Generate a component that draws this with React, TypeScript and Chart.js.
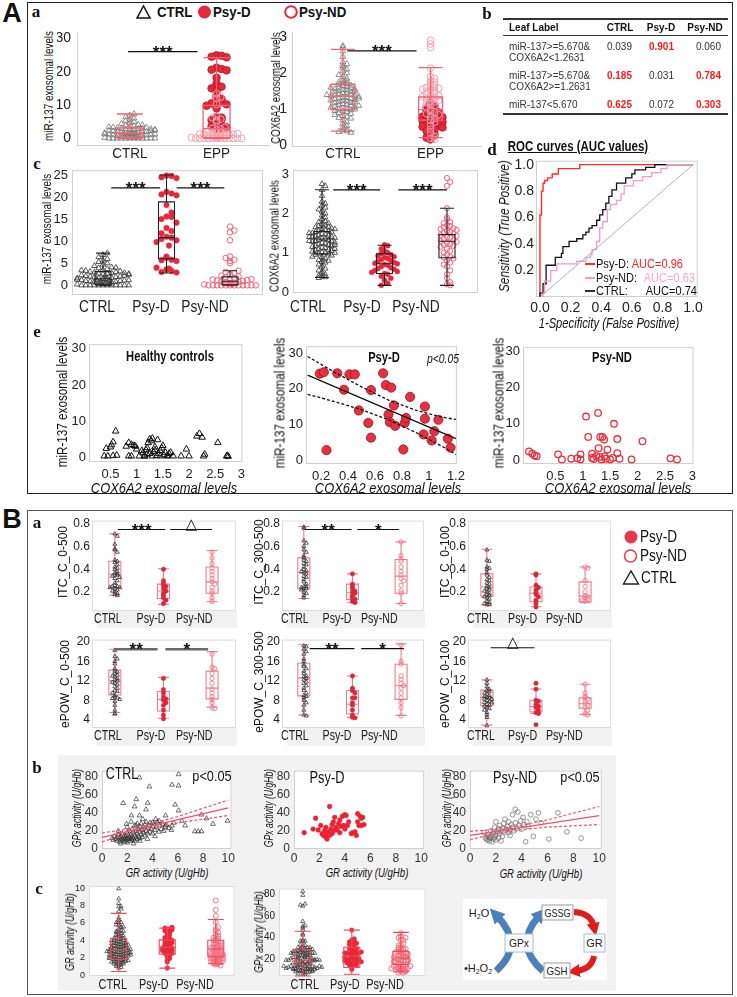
import React, { useEffect, useRef } from 'react';
import { Chart, registerables } from 'chart.js';
Chart.register(...registerables);

const FONT = "'Liberation Sans', Arial, Helvetica, 'DejaVu Sans', sans-serif";
const SERIF = "'Liberation Serif', 'DejaVu Serif', serif";
const RED = '#e5283b';
const PINK = '#f0607a';
const PINK_LIGHT = '#f4a0ae';
const BOXPINK = '#f06474';

// ---------------- DATA ----------------
const GROUPS_A = ['CTRL', 'EPP'];
const GROUPS = ['CTRL', 'Psy-D', 'Psy-ND'];

const MIR_CTRL = [0, 0, 0, 0, 0, 0, 0, 0, 0, 0, 0, 0, 0.2, 0.3, 0.4, 0.5, 0.5, 0.6, 0.7, 0.8, 0.8, 0.9, 1.0, 1.0, 1.1, 1.2, 1.2, 1.3, 1.4, 1.5, 1.5, 1.6, 1.7, 1.8, 1.9, 2.0, 2.0, 2.1, 2.2, 2.3, 2.4, 2.5, 2.6, 2.7, 2.8, 2.9, 3.0, 3.1, 3.2, 3.3, 3.5, 3.7, 3.9, 4.1, 4.4, 4.7, 5.0, 5.3, 5.6, 6.0, 6.4, 6.9, 7.3, 0.3, 0.7, 1.1, 1.6, 2.2, 2.8, 3.4, 4.0, 1.3, 2.6];
const MIR_PSYD = [24.9, 24.8, 24.5, 24.3, 21.2, 20.8, 20.6, 20.4, 18.2, 16.5, 15.6, 15.5, 15.0, 14.2, 13.0, 12.3, 11.8, 11.0, 10.8, 10.5, 10.2, 9.8, 9.0, 6.5, 6.2, 5.8, 5.7, 5.5, 4.0, 3.8, 3.6, 3.3, 3.0, 2.9];
const MIR_PSYND = [0, 0, 0, 0, 0, 0, 0, 0, 0, 0, 0, 0, 0.2, 0.3, 0.4, 0.5, 0.6, 0.7, 0.8, 0.9, 1.0, 1.1, 1.2, 1.3, 1.4, 1.5, 1.6, 1.8, 2.0, 2.2, 2.5, 2.8, 3.0, 3.3, 5.0, 5.5, 5.8, 6.2, 6.5, 10.2, 12.0, 12.4, 13.3];
const COX_CTRL = [2.75, 2.7, 2.6, 2.45, 2.3, 2.25, 2.2, 2.15, 2.1, 2.05, 2.0, 1.95, 1.9, 1.85, 1.8, 1.78, 1.75, 1.72, 1.7, 1.68, 1.66, 1.65, 1.62, 1.6, 1.58, 1.56, 1.55, 1.53, 1.52, 1.5, 1.48, 1.47, 1.45, 1.44, 1.42, 1.4, 1.39, 1.38, 1.36, 1.35, 1.33, 1.32, 1.3, 1.29, 1.28, 1.26, 1.25, 1.23, 1.22, 1.2, 1.18, 1.17, 1.15, 1.13, 1.12, 1.1, 1.08, 1.06, 1.05, 1.03, 1.01, 1.0, 0.98, 0.96, 0.95, 0.93, 0.9, 0.88, 0.85, 0.82, 0.8, 0.77, 0.75, 0.7, 0.65, 0.6, 0.55, 0.5, 0.45, 0.42, 0.4, 0.38, 0.36, 1.6, 1.4, 1.2, 1.0, 1.5, 1.3, 1.1];
const COX_PSYD = [1.2, 1.18, 1.1, 1.05, 1.0, 0.98, 0.95, 0.92, 0.9, 0.88, 0.85, 0.82, 0.8, 0.78, 0.75, 0.73, 0.72, 0.7, 0.68, 0.65, 0.62, 0.6, 0.58, 0.55, 0.52, 0.5, 0.47, 0.45, 0.4, 0.35, 0.3, 0.22, 0.17];
const COX_PSYND = [2.9, 2.8, 2.7, 2.13, 1.9, 1.85, 1.78, 1.75, 1.7, 1.68, 1.65, 1.62, 1.6, 1.58, 1.55, 1.53, 1.5, 1.48, 1.45, 1.43, 1.4, 1.38, 1.35, 1.32, 1.3, 1.28, 1.25, 1.22, 1.2, 1.18, 1.15, 1.1, 1.05, 1.0, 0.95, 0.9, 0.88, 0.85, 0.8, 0.75, 0.7, 0.65, 0.55, 0.45, 0.35, 0.25, 0.2, 0.17];
// box stats: [low whisker, q1, median, q3, high whisker]
const BOX_A1 = [[0, 0.3, 1.6, 3.1, 7.3], [0, 0.2, 2.9, 9.9, 24.2]];
const BOX_A2 = [[0.4, 0.99, 1.36, 1.69, 2.65], [0.22, 0.7, 0.99, 1.34, 2.15]];
const BOX_C1 = [[0, 0.1, 1.5, 3.1, 7.3], [2.8, 6.0, 10.8, 18.9, 25], [0, 0.1, 0.9, 1.9, 3.3]];
const BOX_C2 = [[0.37, 0.97, 1.35, 1.54, 2.6], [0.17, 0.47, 0.72, 0.97, 1.19], [0.17, 0.87, 1.29, 1.46, 2.13]];

const TABLE_HEAD = ['Leaf Label', 'CTRL', 'Psy-D', 'Psy-ND'];
const TABLE_LEAVES = [['miR-137>=5.670&', 'COX6A2<1.2631'], ['miR-137>=5.670&', 'COX6A2>=1.2631'], ['miR-137<5.670']];
const TABLE_VALUES = [[0.039, 0.901, 0.060], [0.185, 0.031, 0.784], [0.625, 0.072, 0.303]];
const TABLE_BOLD = [[false, true, false], [true, false, true], [true, false, true]];

const ROC_PSYD_X = [0, 0, 0.01, 0.01, 0.02, 0.02, 0.03, 0.03, 0.05, 0.05, 0.08, 0.08, 0.12, 0.12, 0.26, 0.26, 1.0];
const ROC_PSYD_Y = [0, 0.62, 0.62, 0.80, 0.80, 0.86, 0.86, 0.88, 0.88, 0.90, 0.90, 0.93, 0.93, 0.97, 0.97, 1.0, 1.0];
const ROC_PSYND_X = [0, 0.02, 0.03, 0.07, 0.11, 0.24, 0.30, 0.33, 0.34, 0.37, 0.39, 0.41, 0.44, 0.46, 0.50, 0.53, 0.55, 0.61, 0.67, 0.73, 0.79, 0.83, 1.0];
const ROC_PSYND_Y = [0, 0.03, 0.12, 0.20, 0.25, 0.27, 0.30, 0.32, 0.36, 0.42, 0.52, 0.57, 0.66, 0.70, 0.73, 0.78, 0.84, 0.88, 0.91, 0.94, 0.97, 1.0, 1.0];
const ROC_CTRL_X = [0, 0, 0.02, 0.04, 0.10, 0.14, 0.15, 0.19, 0.24, 0.28, 0.30, 0.32, 0.34, 0.37, 0.39, 0.41, 0.43, 0.45, 0.47, 0.50, 0.56, 0.60, 0.62, 0.69, 0.75, 1.0];
const ROC_CTRL_Y = [0, 0.03, 0.10, 0.24, 0.30, 0.33, 0.38, 0.42, 0.44, 0.47, 0.49, 0.52, 0.54, 0.58, 0.62, 0.66, 0.71, 0.76, 0.81, 0.86, 0.90, 0.93, 0.96, 0.98, 1.0, 1.0];
const AUC_LABELS = ['Psy-D:', 'Psy-ND:', 'CTRL:'];
const AUC_VALUES = [0.96, 0.63, 0.74];

const E1_PTS = [[0.38, 0.3], [0.42, 2.4], [0.45, 0.3], [0.5, 2.8], [0.52, 3.4], [0.55, 4.2], [0.6, 7.2], [0.62, 0.5], [0.55, 0.4], [0.8, 3.0], [0.85, 4.0], [0.9, 3.5], [0.95, 3.2], [0.98, 3.0], [1.0, 2.2], [0.9, 0.3], [0.85, 0.3], [1.05, 0.3], [1.1, 1.8], [1.12, 1.2], [1.15, 0.5], [1.18, 2.0], [1.2, 0.8], [1.22, 4.0], [1.25, 5.0], [1.28, 4.5], [1.3, 5.2], [1.32, 1.5], [1.35, 2.8], [1.38, 0.4], [1.4, 4.8], [1.42, 1.0], [1.45, 1.8], [1.48, 2.5], [1.5, 3.2], [1.52, 0.6], [1.55, 1.3], [1.58, 0.3], [1.6, 0.4], [1.62, 1.0], [1.65, 1.3], [1.7, 0.3], [1.2, 2.6], [1.25, 1.0], [1.15, 0.2], [1.3, 0.3], [1.45, 0.3], [1.35, 2.0], [1.85, 0.3], [1.95, 2.2], [2.0, 0.3], [2.15, 5.8], [2.2, 6.5], [2.25, 5.5], [2.3, 0.8], [2.28, 0.3], [2.55, 4.0], [2.72, 0.3], [2.75, 0.2], [2.73, 0.4]];
const E2_PTS = [[0.19, 24.2], [0.22, 24.6], [0.32, 24.3], [0.41, 24.0], [0.45, 24.0], [0.37, 19.7], [0.24, 2.8], [0.48, 13.9], [0.55, 10.4], [0.57, 19.6], [0.57, 6.3], [0.66, 24.3], [0.68, 21.0], [0.72, 20.3], [0.74, 15.3], [0.70, 12.8], [0.71, 10.6], [0.75, 9.6], [0.81, 3.0], [0.82, 10.4], [0.83, 11.8], [0.86, 17.7], [0.97, 15.0], [0.96, 7.2], [0.97, 11.6], [1.02, 5.5], [1.04, 8.1], [1.07, 11.3], [1.14, 6.0], [1.16, 3.5]];
const E2_FIT_X = [0.1, 1.2];
const E2_FIT_Y = [23.8, 6.0];
const E2_BAND_X = [0.1, 0.3, 0.5, 0.7, 0.9, 1.1, 1.2];
const E2_BAND_UP = [29.0, 24.6, 20.5, 16.8, 14.0, 12.0, 11.4];
const E2_BAND_LO = [18.4, 16.4, 14.1, 11.3, 7.8, 3.8, 1.6];
const E3_PTS = [[0.02, 2.4], [0.08, 1.8], [0.12, 1.3], [0.16, 1.1], [0.55, 1.6], [0.62, 0.2], [0.79, 0.4], [0.96, 0.2], [0.96, 1.6], [0.9, 0.5], [1.06, 12.0], [1.1, 6.4], [1.17, 0.6], [1.17, 1.8], [1.25, 1.1], [1.28, 13.0], [1.29, 3.3], [1.31, 0.9], [1.32, 6.4], [1.34, 0.2], [1.36, 6.4], [1.39, 5.7], [1.42, 0.4], [1.45, 2.9], [1.5, 0.2], [1.55, 0.6], [1.57, 10.0], [1.63, 5.8], [1.63, 1.9], [1.67, 0.4], [1.89, 0.2], [2.09, 5.2], [2.6, 0.5], [2.72, 0.2], [1.4, 1.0], [1.2, 0.3]];

const ITC0500_CTRL = [0.71, 0.69, 0.62, 0.58, 0.57, 0.55, 0.48, 0.47, 0.46, 0.44, 0.42, 0.41, 0.40, 0.38, 0.37, 0.36, 0.35, 0.35, 0.34, 0.33, 0.32, 0.30, 0.28, 0.26, 0.25, 0.25, 0.24, 0.24, 0.23, 0.22, 0.21, 0.20, 0.19, 0.18, 0.17];
const ITC0500_PSYD = [0.40, 0.30, 0.28, 0.26, 0.25, 0.23, 0.21, 0.19, 0.17, 0.15, 0.13, 0.10];
const ITC0500_PSYND = [0.55, 0.50, 0.45, 0.41, 0.38, 0.35, 0.32, 0.29, 0.27, 0.24, 0.21, 0.19, 0.15, 0.12];
const ITC300_CTRL = [0.77, 0.76, 0.65, 0.63, 0.60, 0.57, 0.55, 0.52, 0.50, 0.48, 0.47, 0.45, 0.44, 0.42, 0.40, 0.39, 0.38, 0.37, 0.36, 0.34, 0.33, 0.31, 0.29, 0.27, 0.25, 0.25, 0.24, 0.23, 0.23, 0.22, 0.20, 0.19, 0.17, 0.15];
const ITC300_PSYD = [0.36, 0.27, 0.25, 0.23, 0.21, 0.20, 0.19, 0.17, 0.15, 0.14, 0.12, 0.11];
const ITC300_PSYND = [0.64, 0.52, 0.49, 0.47, 0.42, 0.38, 0.35, 0.32, 0.30, 0.26, 0.21, 0.19, 0.10];
const ITC0100_CTRL = [0.57, 0.48, 0.47, 0.42, 0.41, 0.40, 0.37, 0.35, 0.33, 0.31, 0.30, 0.28, 0.27, 0.25, 0.24, 0.23, 0.22, 0.21, 0.20, 0.19, 0.18, 0.17, 0.16, 0.15, 0.14, 0.12, 0.11, 0.10, 0.09, 0.09];
const ITC0100_PSYD = [0.36, 0.35, 0.26, 0.24, 0.22, 0.20, 0.18, 0.16, 0.13, 0.10, 0.07];
const ITC0100_PSYND = [0.42, 0.41, 0.30, 0.25, 0.20, 0.17, 0.16, 0.15, 0.14, 0.13, 0.12];
const POW0500_CTRL = [18.3, 17.0, 16.5, 16.0, 15.5, 14.5, 14.0, 13.8, 13.5, 13.2, 13.0, 12.8, 12.5, 12.2, 12.0, 11.7, 11.5, 11.2, 10.8, 10.5, 10.0, 9.8, 9.5, 9.0, 8.7, 8.5, 8.4, 8.2, 7.8, 7.0, 6.0, 5.3, 5.2];
const POW0500_PSYD = [12.5, 10.2, 9.5, 8.7, 8.3, 8.0, 7.5, 7.0, 6.0, 5.0, 4.2];
const POW0500_PSYND = [17.5, 14.8, 14.5, 13.5, 12.5, 11.5, 10.3, 9.5, 8.8, 8.2, 7.5, 6.5, 6.3];
const POW300_CTRL = [19.2, 19.0, 18.5, 18.0, 17.5, 16.5, 16.0, 15.3, 15.0, 14.5, 14.0, 13.5, 13.0, 12.8, 12.5, 12.2, 11.8, 11.5, 11.0, 10.5, 10.0, 9.5, 9.0, 8.8, 8.5, 8.0, 7.5, 7.0, 6.0, 5.0, 4.8];
const POW300_PSYD = [13.0, 10.5, 10.0, 9.5, 8.5, 8.5, 7.5, 7.0, 6.0, 5.0, 4.5, 4.4];
const POW300_PSYND = [19.3, 16.0, 15.5, 13.0, 12.3, 11.5, 11.0, 10.5, 9.5, 8.5, 7.5, 6.5, 4.8];
const POW0100_CTRL = [12.2, 11.5, 10.8, 10.2, 10.0, 9.8, 9.5, 9.3, 9.0, 8.8, 8.6, 8.5, 8.3, 8.2, 8.0, 7.8, 7.6, 7.5, 7.2, 7.0, 6.8, 6.5, 6.3, 6.0, 5.5, 5.0, 4.5, 2.8];
const POW0100_PSYD = [11.5, 10.3, 8.0, 7.8, 7.2, 6.8, 6.5, 6.0, 5.5, 5.3, 3.0];
const POW0100_PSYND = [11.3, 9.5, 8.8, 8.5, 8.2, 7.8, 7.3, 7.0, 6.5, 6.0, 5.2, 5.0];
const BOX_ITC0500 = [[0.174, 0.237, 0.356, 0.47, 0.71], [0.093, 0.145, 0.21, 0.27, 0.405], [0.116, 0.19, 0.29, 0.42, 0.565]];
const BOX_ITC300 = [[0.145, 0.23, 0.37, 0.50, 0.775], [0.107, 0.137, 0.195, 0.27, 0.36], [0.10, 0.19, 0.34, 0.485, 0.64]];
const BOX_ITC0100 = [[0.087, 0.165, 0.245, 0.36, 0.575], [0.072, 0.116, 0.19, 0.245, 0.36], [0.11, 0.116, 0.165, 0.29, 0.42]];
const BOX_POW0500 = [[5.5, 9.1, 12.0, 14.2, 18.5], [4.3, 5.8, 8.2, 9.8, 12.7], [6.6, 8.3, 10.5, 14.0, 18.0]];
const BOX_POW300 = [[5.0, 8.9, 12.6, 15.6, 19.4], [4.5, 5.2, 7.2, 10.0, 13.0], [4.9, 8.2, 11.0, 15.4, 19.6]];
const BOX_POW0100 = [[2.9, 6.9, 8.6, 10.1, 12.2], [5.3, 5.6, 6.7, 8.0, 10.3], [5.1, 6.4, 7.3, 8.5, 11.3]];

// GR activity, GPx activity pairs (U/gHb)
const GG_CTRL = [[0.8, 12], [0.9, 10], [1.0, 14], [1.1, 11], [1.2, 9], [1.2, 13], [1.3, 16], [1.4, 12], [1.4, 8], [1.5, 10], [1.5, 14], [1.6, 11], [1.6, 17], [1.7, 9], [1.7, 13], [1.8, 12], [1.8, 15], [1.8, 8], [1.9, 10], [1.9, 14], [2.0, 11], [2.0, 18], [2.0, 7], [2.1, 12], [2.1, 15], [2.2, 9], [2.2, 13], [2.2, 20], [2.3, 11], [2.3, 16], [2.4, 10], [2.4, 14], [2.4, 22], [2.5, 12], [2.5, 18], [2.6, 9], [2.6, 15], [2.6, 26], [2.7, 13], [2.7, 20], [2.8, 11], [2.8, 17], [2.8, 28], [2.9, 14], [2.9, 22], [3.0, 12], [3.0, 19], [3.0, 25], [3.1, 16], [3.1, 28], [3.2, 13], [3.2, 21], [3.3, 18], [3.3, 24], [3.4, 15], [3.4, 27], [3.5, 20], [3.5, 30], [3.6, 17], [3.6, 23], [3.7, 26], [3.8, 19], [3.8, 29], [3.9, 22], [4.0, 25], [4.0, 17], [4.1, 28], [4.2, 21], [4.3, 24], [4.4, 30], [4.5, 19], [4.6, 26], [4.7, 22], [4.8, 28], [4.9, 20], [5.0, 24], [5.1, 27], [5.3, 23], [5.5, 21], [5.7, 29], [1.5, 6], [2.5, 6], [3.0, 9], [1.3, 20], [2.0, 24], [3.6, 11], [4.2, 14], [2.3, 30], [2.97, 79], [6.07, 82.6], [3.75, 69], [5.55, 71], [6.07, 70], [1.68, 50.7], [2.71, 55], [3.62, 51], [2.58, 47], [3.49, 43.6], [5.8, 49], [6.07, 42.5], [5.04, 37], [2.33, 37], [2.97, 37], [3.23, 33], [4.26, 33], [1.94, 27.7], [2.71, 25.9], [4.0, 29.4], [4.52, 31], [6.33, 31], [5.04, 25.9], [7.36, 19.5], [7.62, 19.5], [7.88, 19.5], [7.88, 38], [8.27, 33.7], [8.79, 27.7], [9.95, 31.2], [6.59, 25.9], [5.55, 25.9]];
const GG_PSYD = [[1.5, 22], [1.7, 34], [1.9, 21], [2.1, 26], [2.2, 17], [2.3, 15], [2.4, 20], [2.5, 24], [2.5, 13], [2.6, 11], [2.6, 16], [2.7, 19], [2.8, 47], [2.8, 15], [2.9, 22], [3.0, 27], [3.0, 17], [3.1, 30], [3.1, 20], [3.2, 35], [3.3, 24], [3.4, 21], [3.5, 28], [3.6, 32], [3.6, 18], [3.7, 25], [3.8, 36], [3.9, 26], [4.0, 38], [4.0, 22], [4.1, 37], [4.2, 26], [4.3, 30], [4.5, 17], [4.6, 18], [4.8, 19], [4.9, 15], [5.0, 39], [5.0, 30], [5.1, 26], [5.2, 36], [5.3, 26], [5.3, 34], [5.4, 35], [5.5, 27], [0.8, 18]];
const GG_PSYND = [[1.2, 12], [1.3, 10], [1.3, 14], [1.4, 11], [1.4, 16], [1.5, 9], [1.5, 13], [1.6, 12], [1.6, 20], [1.7, 8], [1.7, 15], [1.8, 11], [1.8, 18], [1.9, 13], [1.9, 24], [2.0, 10], [2.0, 16], [2.0, 30], [2.1, 19], [2.2, 12], [2.2, 22], [2.3, 17], [2.3, 26], [2.4, 20], [2.5, 14], [2.5, 23], [2.6, 28], [2.7, 19], [2.7, 33], [2.8, 22], [2.9, 25], [3.0, 18], [3.0, 30], [3.1, 21], [3.2, 27], [3.3, 24], [3.3, 38], [3.4, 20], [3.5, 29], [3.5, 44], [3.6, 23], [3.7, 41], [3.8, 26], [3.9, 31], [4.0, 22], [4.1, 35], [4.2, 27], [4.3, 8], [4.4, 30], [4.5, 25], [4.7, 38], [4.9, 14], [5.1, 33], [5.3, 40], [5.5, 29], [6.1, 11], [6.8, 40], [7.5, 19], [8.6, 12], [2.4, 9], [3.1, 15], [1.1, 18]];
const B1_FIT_X = [0, 10];
const B1_FIT_Y = [12.8, 45.5];
const B_BAND_X = [0, 2, 4, 6, 8, 10];
const B1_UP = [17.8, 21.8, 28.2, 35.9, 45.0, 54.0];
const B1_LO = [7.8, 16.8, 23.6, 28.9, 33.0, 37.0];
const B3_FIT_X = [0, 10];
const B3_FIT_Y = [15, 37];
const B3_UP = [19.5, 21.9, 26.3, 32.2, 39.6, 47.0];
const B3_LO = [10.5, 16.9, 21.3, 24.2, 25.6, 27.0];
const BOX_GR = [[0.4, 1.8, 2.9, 4.2, 7.1], [0.8, 2.4, 3.2, 4.05, 5.4], [1.3, 2.1, 3.0, 4.0, 6.4]];
const BOX_GPX = [[5, 15, 19.5, 29, 46], [6.5, 12.8, 23, 31.3, 47], [8.8, 15.5, 21.4, 27.5, 44.9]];

// ---------------- HELPERS ----------------
type Rect = { l: number; t: number; r: number; b: number };
type M = [number, number, number, number];

function ChartBox({ rect, m, cfg }: { rect: Rect; m: M; cfg: () => any }) {
  const ref = useRef<HTMLCanvasElement | null>(null);
  const [ml, mt, mr, mb] = m;
  const w = rect.r - rect.l + ml + mr;
  const h = rect.b - rect.t + mt + mb;
  useEffect(() => {
    const c = cfg();
    c.options.layout = { padding: { left: 0, top: mt, right: mr, bottom: 0 } };
    c.options.animation = false;
    c.options.responsive = false;
    c.options.devicePixelRatio = 1;
    c.options.plugins = { legend: { display: false }, tooltip: { enabled: false } };
    const chart = new Chart(ref.current as HTMLCanvasElement, c);
    return () => chart.destroy();
  }, []);
  return <canvas ref={ref} width={w} height={h} style={{ position: 'absolute', left: rect.l - ml, top: rect.t - mt, width: w, height: h }} />;
}

function fontOf(size: number, family = FONT, weight: any = 'normal', style = 'normal') {
  return { size, family, weight, style, lineHeight: 1.1 };
}

function yAxis(o: any) {
  return {
    type: 'linear', position: 'left', min: o.min, max: o.max,
    afterBuildTicks: (a: any) => { a.ticks = o.ticks.map((v: number) => ({ value: v })); },
    afterFit: (s: any) => { s.width = o.ml; },
    grid: { display: false, drawTicks: false },
    border: o.border ? { display: true, color: o.border, width: 1 } : { display: false },
    ticks: { font: o.font, color: o.color ?? '#222', padding: o.pad ?? 4, autoSkip: false, callback: (v: number) => (o.fmt ? o.fmt(v) : String(v)) },
  };
}

function xAxis(o: any) {
  return {
    type: 'linear', position: 'bottom', min: o.min, max: o.max,
    afterBuildTicks: (a: any) => { a.ticks = o.ticks.map((v: number) => ({ value: v })); },
    afterFit: (s: any) => { s.height = o.mb; },
    grid: { display: false, drawTicks: false },
    border: o.border ? { display: true, color: o.border, width: 1 } : { display: false },
    ticks: { font: o.font, color: o.color ?? '#222', padding: o.pad ?? 3, autoSkip: false, maxRotation: 0, callback: (v: number) => (o.fmt ? o.fmt(v) : String(v)) },
  };
}

// category label axis: integer ticks 1..n placed at the label positions
function labelAxis(labels: string[], rect: Rect, pos: [number, number], mb: number, border?: string) {
  const n = labels.length;
  const s = (pos[1] - pos[0]) / (n - 1);
  return {
    type: 'linear', position: 'bottom', min: 1 - (pos[0] - rect.l) / s, max: n + (rect.r - pos[1]) / s,
    afterBuildTicks: (a: any) => { a.ticks = labels.map((_, i) => ({ value: i + 1 })); },
    afterFit: (sc: any) => { sc.height = mb; },
    grid: { display: false, drawTicks: false },
    border: border ? { display: true, color: border, width: 1 } : { display: false },
    ticks: { display: false },
  };
}

// draws the category labels of the 'xl' axis, horizontally condensed
function condLabelPlugin(labels: string[], font: string, sx: number, dy: number) {
  return {
    id: 'condLabels',
    afterDraw(chart: any) {
      const ax = chart.scales.xl;
      const { ctx } = chart;
      ctx.save();
      ctx.font = font; ctx.fillStyle = '#222'; ctx.textAlign = 'center'; ctx.textBaseline = 'middle';
      labels.forEach((lb, i) => {
        ctx.save();
        ctx.translate(ax.getPixelForValue(i + 1), chart.chartArea.bottom + dy);
        ctx.scale(sx, 1);
        ctx.fillText(lb, 0, 0);
        ctx.restore();
      });
      ctx.restore();
    },
  };
}

function framePlugin(color: string, bg?: string) {
  return {
    id: 'frame',
    beforeDatasetsDraw(chart: any) {
      const { ctx, chartArea: a } = chart;
      ctx.save();
      if (bg) { ctx.fillStyle = bg; ctx.fillRect(a.left, a.top, a.right - a.left, a.bottom - a.top); }
      ctx.strokeStyle = color; ctx.lineWidth = 1;
      ctx.strokeRect(a.left + 0.5, a.top + 0.5, a.right - a.left - 1, a.bottom - a.top - 1);
      ctx.restore();
    },
  };
}

function boxPlugin(items: any[], top: boolean) {
  const draw = (chart: any) => {
    const { ctx } = chart;
    const xs = chart.scales.x, ys = chart.scales.y;
    ctx.save();
    for (const b of items) {
      const cx = xs.getPixelForValue(b.x);
      const [lo, q1, md, q3, hi] = b.s.map((v: number) => ys.getPixelForValue(v));
      ctx.strokeStyle = b.color; ctx.lineWidth = b.lw;
      ctx.beginPath();
      ctx.rect(cx - b.w / 2, q3, b.w, q1 - q3);
      ctx.moveTo(cx - b.w / 2, md); ctx.lineTo(cx + b.w / 2, md);
      ctx.moveTo(cx, q3); ctx.lineTo(cx, hi);
      ctx.moveTo(cx, q1); ctx.lineTo(cx, lo);
      ctx.moveTo(cx - b.cap / 2, hi); ctx.lineTo(cx + b.cap / 2, hi);
      ctx.moveTo(cx - b.cap / 2, lo); ctx.lineTo(cx + b.cap / 2, lo);
      ctx.stroke();
    }
    ctx.restore();
  };
  return {
    id: 'boxes',
    beforeDatasetsDraw: (c: any) => { if (!top) draw(c); },
    afterDatasetsDraw: (c: any) => { if (top) draw(c); },
  };
}

function sigPlugin(items: any[]) {
  return {
    id: 'sig',
    afterDatasetsDraw(chart: any) {
      const { ctx } = chart;
      const xs = chart.scales.x, ys = chart.scales.y;
      ctx.save();
      for (const s of items) {
        const a = xs.getPixelForValue(s.x1), b = xs.getPixelForValue(s.x2), y = ys.getPixelForValue(s.y);
        ctx.strokeStyle = s.c ?? '#111'; ctx.lineWidth = s.lw ?? 1.2;
        ctx.beginPath(); ctx.moveTo(a, y); ctx.lineTo(b, y); ctx.stroke();
        ctx.fillStyle = '#111';
        ctx.font = s.font ?? `bold 17px ${FONT}`;
        ctx.textAlign = 'center'; ctx.textBaseline = 'alphabetic';
        ctx.fillText(s.t, (a + b) / 2, y + (s.dy ?? 6));
      }
      ctx.restore();
    },
  };
}

function pointSet(data: any[], st: any) {
  const base: any = { type: 'scatter', data, pointRadius: st.r, pointHoverRadius: st.r, borderWidth: st.bw ?? 1, showLine: false };
  if (st.style === 'tri') { base.pointStyle = 'triangle'; base.borderColor = st.color; base.backgroundColor = st.fill ?? 'rgba(255,255,255,0)'; }
  else if (st.style === 'dot') { base.pointStyle = 'circle'; base.backgroundColor = st.color; base.borderColor = st.edge ?? st.color; }
  else { base.pointStyle = 'circle'; base.borderColor = st.color; base.backgroundColor = st.fill ?? 'rgba(255,255,255,0)'; }
  return base;
}

function lineSet(xs: number[], ys: number[], color: string, w: number, dash?: number[], stepped?: any) {
  return {
    type: 'line', data: xs.map((x, i) => ({ x, y: ys[i] })), borderColor: color, borderWidth: w,
    borderDash: dash ?? [], pointRadius: 0, fill: false, tension: 0, stepped: stepped ?? false,
  };
}

// dot-strip + box plot. Horizontal positions of the dots follow a simple beeswarm layout
function stripChart(o: any) {
  const { rect, m } = o;
  const n = o.cats.length;
  const s = (o.boxPos[1] - o.boxPos[0]) / (n - 1);
  const xmin = 1 - (o.boxPos[0] - rect.l) / s;
  const xmax = n + (rect.r - o.boxPos[1]) / s;
  const datasets: any[] = [];
  o.cats.forEach((strips: any[], ci: number) => {
    strips.forEach((st: any) => {
      const counts: Record<string, number> = {};
      const binH = st.binH ?? o.binH;
      const dxPx = st.dxPx ?? o.dxPx;
      const maxHalf = st.maxHalf ?? o.maxHalf;
      const dx = dxPx / s;
      const maxK = Math.max(1, Math.floor(maxHalf / dxPx));
      const data = st.vals.map((v: number) => {
        const k = Math.round(v / binH);
        const c = counts[k] ?? 0;
        counts[k] = c + 1;
        let off = 0;
        if (c > 0) {
          const kk = Math.ceil(c / 2);
          const layer = Math.floor((kk - 1) / maxK);
          const pos = ((kk - 1) % maxK) + 1 - (layer % 2 ? 0.5 : 0);
          off = (c % 2 === 1 ? 1 : -1) * pos * dx;
        }
        return { x: ci + 1 + off, y: v };
      });
      datasets.push(pointSet(data, st));
    });
  });
  const boxes = o.boxes.map((b: number[], i: number) => ({ x: i + 1, s: b, color: o.boxColor, w: o.boxW, cap: o.capW, lw: o.boxLw }));
  const plugins: any[] = [];
  if (o.frame) plugins.push(framePlugin(o.frame, o.bg));
  plugins.push(boxPlugin(boxes, o.boxTop));
  if (o.sig) plugins.push(sigPlugin(o.sig));
  plugins.push(condLabelPlugin(o.labels, o.labelFont, o.labelSx, o.labelDy));
  return {
    type: 'scatter',
    data: { datasets },
    options: {
      scales: {
        x: { type: 'linear', min: xmin, max: xmax, display: false },
        xl: labelAxis(o.labels, rect, o.labelPos, m[3], o.axisColor),
        y: yAxis({ min: o.ymin, max: o.ymax, ticks: o.yticks, fmt: o.yfmt, font: o.tickFont, ml: m[0], pad: o.tickPad, border: o.axisColor }),
      },
    },
    plugins,
  };
}

function scatterChart(o: any) {
  const plugins: any[] = [];
  if (o.frame) plugins.push(framePlugin(o.frame, o.bg));
  return {
    type: 'scatter',
    data: { datasets: o.datasets },
    options: {
      scales: {
        x: xAxis({ min: o.xmin, max: o.xmax, ticks: o.xticks, fmt: o.xfmt, font: o.tickFont, mb: o.m[3], pad: o.xPad, color: o.tickColor }),
        y: yAxis({ min: o.ymin, max: o.ymax, ticks: o.yticks, fmt: o.yfmt, font: o.tickFont, ml: o.m[0], pad: o.yPad, color: o.tickColor }),
      },
    },
    plugins,
  };
}

const toPts = (pairs: number[][]) => pairs.map((p) => ({ x: p[0], y: p[1] }));
const fx1 = (v: number) => v.toFixed(1);

function T(p: { x: number; y: number; s?: number; f?: string; w?: any; c?: string; it?: boolean; rot?: boolean; al?: string; u?: boolean; sx?: number; children: any }) {
  const { x, y, s = 12, f = FONT, w = 400, c = '#111', it = false, rot = false, al = 'c', u = false, sx = 1, children } = p;
  const tx = al === 'c' ? '-50%' : al === 'l' ? '0%' : '-100%';
  const origin = al === 'c' ? 'center' : al === 'l' ? 'left center' : 'right center';
  return (
    <div style={{ position: 'absolute', left: x, top: y, transform: `translate(${tx},-50%)${rot ? ' rotate(-90deg)' : ''}${sx !== 1 ? ` scaleX(${sx})` : ''}`, transformOrigin: origin, fontFamily: f, fontSize: s, fontWeight: w, fontStyle: it ? 'italic' : 'normal', color: c, whiteSpace: 'nowrap', lineHeight: 1, textDecoration: u ? 'underline' : 'none' }}>
      {children}
    </div>
  );
}

function Box({ x, y, w, h, bg, border }: { x: number; y: number; w: number; h: number; bg?: string; border?: string }) {
  return <div style={{ position: 'absolute', left: x, top: y, width: w, height: h, background: bg ?? 'transparent', border: border ?? 'none', boxSizing: 'border-box' }} />;
}

// ---------------- CHART DEFINITIONS ----------------
const RA1: Rect = { l: 77, t: 28, r: 270, b: 145 };
const RA2: Rect = { l: 292, t: 28, r: 482, b: 146 };
const RC1: Rect = { l: 72, t: 167, r: 263, b: 295 };
const RC2: Rect = { l: 293, t: 167, r: 478, b: 293 };
const RROC: Rect = { l: 536, t: 157, r: 700, b: 297 };
const RE1: Rect = { l: 89, t: 340, r: 246, b: 462 };
const RE2: Rect = { l: 306, t: 342, r: 466, b: 464 };
const RE3: Rect = { l: 523, t: 343, r: 697, b: 464 };

const triA = { style: 'tri', color: '#777', r: 3.4, bw: 0.8 };
const triC = { style: 'tri', color: '#333', r: 3.2, bw: 0.8 };

function cfgA1() {
  return stripChart({
    rect: RA1, m: [20, 8, 4, 18], ymin: -2, ymax: 31.4, yticks: [0, 10, 20, 30], tickFont: fontOf(14), tickPad: 6,
    labels: GROUPS_A, labelPos: [130, 217], labelFont: `15px ${FONT}`, labelSx: 0.9, labelDy: 9, boxPos: [130, 217],
    cats: [[{ ...triA, vals: MIR_CTRL }], [{ style: 'ring', color: PINK_LIGHT, r: 3.4, bw: 1, vals: MIR_PSYND, maxHalf: 26 }, { style: 'dot', color: RED, edge: '#b81828', r: 3.8, bw: 0.8, vals: MIR_PSYD, binH: 1.3, dxPx: 5, maxHalf: 14 }]],
    boxes: BOX_A1, boxColor: BOXPINK, boxW: 27, capW: 26, boxLw: 1.3, boxTop: true, binH: 1.0, dxPx: 4.2, maxHalf: 29,
    axisColor: '#cfcfcf',
    sig: [{ x1: 0.98, x2: 1.78, y: 26, t: '***' }],
  });
}
function cfgA2() {
  return stripChart({
    rect: RA2, m: [20, 8, 4, 18], ymin: -0.01, ymax: 3.11, yticks: [0, 1, 2, 3], tickFont: fontOf(14), tickPad: 5,
    labels: GROUPS_A, labelPos: [343, 431], labelFont: `15px ${FONT}`, labelSx: 0.9, labelDy: 8, boxPos: [343, 431],
    cats: [[{ ...triA, vals: COX_CTRL }], [{ style: 'ring', color: PINK_LIGHT, r: 3.4, bw: 1, vals: COX_PSYND }, { style: 'dot', color: RED, edge: '#b81828', r: 3.8, bw: 0.8, vals: COX_PSYD, binH: 0.14, maxHalf: 12 }]],
    boxes: BOX_A2, boxColor: BOXPINK, boxW: 24, capW: 24, boxLw: 1.3, boxTop: true, binH: 0.1, dxPx: 4, maxHalf: 19,
    axisColor: '#cfcfcf',
    sig: [{ x1: 1.05, x2: 1.84, y: 2.61, t: '***' }],
  });
}
function cfgC1() {
  return stripChart({
    rect: RC1, m: [24, 8, 4, 22], ymin: -2.2, ymax: 26.1, yticks: [0, 5, 10, 15, 20, 25], tickFont: fontOf(13), tickPad: 4,
    labels: GROUPS, labelPos: [97, 205], labelFont: `16px ${FONT}`, labelSx: 0.86, labelDy: 13, boxPos: [103, 230],
    cats: [[{ ...triC, vals: MIR_CTRL }], [{ style: 'dot', color: RED, r: 2.8, bw: 0.5, vals: MIR_PSYD, binH: 2.5, dxPx: 5, maxHalf: 14 }], [{ style: 'ring', color: PINK, r: 2.8, bw: 1, vals: MIR_PSYND }]],
    boxes: BOX_C1, boxColor: '#222', boxW: 16, capW: 14, boxLw: 1.1, boxTop: true, binH: 1.0, dxPx: 4.3, maxHalf: 27,
    frame: '#d0d0d0',
    sig: [{ x1: 1.13, x2: 1.9, y: 22.1, t: '***' }, { x1: 2.16, x2: 2.91, y: 22.1, t: '***' }],
  });
}
function cfgC2() {
  return stripChart({
    rect: RC2, m: [22, 8, 4, 22], ymin: -0.025, ymax: 3.1, yticks: [0, 1, 2, 3], tickFont: fontOf(13), tickPad: 4,
    labels: GROUPS, labelPos: [308, 416], labelFont: `16px ${FONT}`, labelSx: 0.86, labelDy: 15, boxPos: [322, 447],
    cats: [[{ ...triC, vals: COX_CTRL }], [{ style: 'dot', color: RED, r: 2.5, bw: 0.5, vals: COX_PSYD, binH: 0.2 }], [{ style: 'ring', color: PINK, r: 2.6, bw: 1, vals: COX_PSYND, binH: 0.15 }]],
    boxes: BOX_C2, boxColor: '#222', boxW: 16, capW: 14, boxLw: 1.1, boxTop: true, binH: 0.12, dxPx: 3.2, maxHalf: 13,
    frame: '#d0d0d0',
    sig: [{ x1: 1.18, x2: 1.93, y: 2.6, t: '***' }, { x1: 2.22, x2: 3.0, y: 2.6, t: '***' }],
  });
}
function cfgROC() {
  return scatterChart({
    m: [30, 6, 6, 18], xmin: -0.026, xmax: 1.03, xticks: [0, 0.2, 0.4, 0.6, 0.8, 1.0], xfmt: fx1,
    ymin: 0, ymax: 1.03, yticks: [0.2, 0.4, 0.6, 0.8, 1.0], yfmt: fx1, tickFont: fontOf(14), xPad: 3, yPad: 2,
    frame: '#cfcfcf',
    datasets: [
      lineSet([0, 1], [0, 1], '#a0a0a0', 0.8),
      lineSet(ROC_PSYND_X, ROC_PSYND_Y, '#f49ac8', 1.3, undefined, 'before'),
      lineSet(ROC_CTRL_X, ROC_CTRL_Y, '#111', 1.3, undefined, 'before'),
      lineSet(ROC_PSYD_X, ROC_PSYD_Y, '#ff2a2a', 1.4, undefined, 'before'),
    ],
  });
}
function eCfg(o: any) {
  return scatterChart({
    m: [30, 6, 4, 20], xmin: o.xmin, xmax: o.xmax, xticks: o.xticks, ymin: o.ymin, ymax: o.ymax, yticks: [0, 10, 20, 30],
    tickFont: fontOf(13), xPad: 5, yPad: 3, frame: '#cfcfcf', datasets: o.datasets,
  });
}
const cfgE1 = () => eCfg({ xmin: 0.09, xmax: 3.02, xticks: [0.5, 1, 1.5, 2, 2.5, 3], ymin: -1.34, ymax: 31.3,
  datasets: [pointSet(toPts(E1_PTS), { style: 'tri', color: '#111', r: 3.8, bw: 1 })] });
const cfgE2 = () => eCfg({ xmin: 0.088, xmax: 1.207, xticks: [0.2, 0.4, 0.6, 0.8, 1, 1.2], ymin: -1.08, ymax: 31.9,
  datasets: [
    lineSet(E2_BAND_X, E2_BAND_UP, '#111', 1.3, [3, 2]),
    lineSet(E2_BAND_X, E2_BAND_LO, '#111', 1.3, [3, 2]),
    lineSet(E2_FIT_X, E2_FIT_Y, '#111', 1.3),
    pointSet(toPts(E2_PTS), { style: 'dot', color: '#e6303f', edge: '#9a1020', r: 4.6, bw: 0.8 }),
  ] });
const cfgE3 = () => eCfg({ xmin: -0.09, xmax: 3.02, xticks: [0.5, 1, 1.5, 2, 2.5, 3], ymin: -1.06, ymax: 31.1,
  datasets: [pointSet(toPts(E3_PTS), { style: 'ring', color: '#e8303f', r: 3.3, bw: 1.3 })] });

// ---- Panel B ----
const ITC_Y = { ymin: 0.035, ymax: 0.826, yticks: [0.2, 0.4, 0.6, 0.8], yfmt: fx1 };
const POW_Y = { ymin: 2.31, ymax: 20.47, yticks: [4, 8, 12, 16, 20] };
const B_COLS = [
  { l: 92, r: 237, box: [115, 213], lab: [108, 195] },
  { l: 282, r: 425, box: [304, 402], lab: [295, 380] },
  { l: 468, r: 612, box: [487, 586], lab: [481, 565] },
];
const ITC_T = 520, ITC_B = 611, POW_T = 639, POW_B = 728;

function bStrip(col: number, row: 'itc' | 'pow', vals: number[][], boxes: number[][], sig?: any[]) {
  const c = B_COLS[col];
  const rect = { l: c.l, r: c.r, t: row === 'itc' ? ITC_T : POW_T, b: row === 'itc' ? ITC_B : POW_B };
  const yy: any = row === 'itc' ? ITC_Y : POW_Y;
  return stripChart({
    rect, m: [30, 8, 2, 18], ...yy, tickFont: fontOf(12), tickPad: 2,
    labels: GROUPS, labelPos: c.lab, labelFont: `14px ${FONT}`, labelSx: 0.76, labelDy: 8.5, boxPos: c.box,
    cats: [[{ style: 'tri', color: '#333', r: 2.3, bw: 0.8, vals: vals[0] }], [{ style: 'dot', color: '#d8283a', r: 2.2, bw: 0.5, vals: vals[1] }], [{ style: 'ring', color: '#f07888', r: 2.2, bw: 0.9, vals: vals[2] }]],
    boxes, boxColor: '#f27a88', boxW: 12, capW: 11, boxLw: 1.1, boxTop: false, binH: row === 'itc' ? 0.028 : 0.7, dxPx: 2.5, maxHalf: 7,
    frame: '#dcdcdc', sig,
  });
}
const starF = `bold 17px ${FONT}`;
const triF = `15px 'DejaVu Sans', ${FONT}`;

function bScatter(o: any) {
  return scatterChart({
    m: [28, 8, 4, 16], xmin: 0, xmax: o.xmax, xticks: [0, 2, 4, 6, 8, 10], ymin: 0, ymax: 86.7, yticks: [0, 20, 40, 60, 80],
    tickFont: fontOf(12), tickColor: '#333', xPad: 3, yPad: 4, frame: '#cfcfcf', bg: '#ffffff', datasets: o.datasets,
  });
}
const RB1: Rect = { l: 102, t: 768, r: 234, b: 849 };
const RB2: Rect = { l: 294, t: 768, r: 427, b: 849 };
const RB3: Rect = { l: 470, t: 768, r: 605, b: 849 };
const cfgB1 = () => bScatter({ xmax: 10.26, datasets: [
  lineSet(B1_FIT_X, B1_FIT_Y, '#f0506a', 1.3),
  lineSet(B_BAND_X, B1_UP, '#f0506a', 1.2, [3, 2]),
  lineSet(B_BAND_X, B1_LO, '#f0506a', 1.2, [3, 2]),
  pointSet(toPts(GG_CTRL), { style: 'tri', color: '#333', r: 2.8, bw: 0.7 }),
] });
const cfgB2 = () => bScatter({ xmax: 10.23, datasets: [pointSet(toPts(GG_PSYD), { style: 'dot', color: '#ea2232', r: 2.4, bw: 0.4 })] });
const cfgB3 = () => bScatter({ xmax: 10.2, datasets: [
  lineSet(B3_FIT_X, B3_FIT_Y, '#f0506a', 1.3),
  lineSet(B_BAND_X, B3_UP, '#f0506a', 1.2, [3, 2]),
  lineSet(B_BAND_X, B3_LO, '#f0506a', 1.2, [3, 2]),
  pointSet(toPts(GG_PSYND), { style: 'ring', color: '#6a6a6a', r: 2.4, bw: 0.7 }),
] });

const RCR1: Rect = { l: 89, t: 885, r: 236, b: 976 };
const RCR2: Rect = { l: 279, t: 887, r: 427, b: 976 };
function cRow(rect: Rect, idx: number, o: any) {
  return stripChart({
    rect, m: [26, 8, 2, 16], ymin: o.ymin, ymax: o.ymax, yticks: o.yticks, tickFont: fontOf(o.fs), tickPad: 4,
    labels: GROUPS, labelPos: o.lab, labelFont: `14px ${FONT}`, labelSx: 0.78, labelDy: 9, boxPos: o.box,
    cats: [[{ style: 'tri', color: '#333', r: 2.4, bw: 0.7, vals: GG_CTRL.map((p) => p[idx]), maxHalf: 22 }], [{ style: 'dot', color: '#e8283a', r: 2.3, bw: 0.4, vals: GG_PSYD.map((p) => p[idx]) }], [{ style: 'ring', color: '#f06a7c', r: 2.5, bw: 0.9, vals: GG_PSYND.map((p) => p[idx]) }]],
    boxes: o.boxes, boxColor: '#f0485a', boxW: 16, capW: 16, boxLw: 1.1, boxTop: true, binH: o.binH, dxPx: 2.4, maxHalf: 14,
    frame: '#dcdcdc', bg: '#ffffff',
  });
}
const cfgCR1 = () => cRow(RCR1, 0, { ymin: -0.11, ymax: 10.26, yticks: [0, 2, 4, 6, 8, 10], fs: 9, lab: [113, 196], box: [119, 217], boxes: BOX_GR, binH: 0.3 });
const cfgCR2 = () => cRow(RCR2, 1, { ymin: 4.96, ymax: 85.1, yticks: [20, 40, 60, 80], fs: 10, lab: [305, 386], box: [303, 402], boxes: BOX_GPX, binH: 2.6 });

function Diagram() {
  const blue = '#4f7fba';
  const red = '#e01c1c';
  return (
    <svg width={144} height={81} style={{ position: 'absolute', left: 463, top: 899 }}>
      <defs>
        <marker id="ab" viewBox="0 0 10 10" refX="3" refY="5" markerUnits="userSpaceOnUse" markerWidth="15" markerHeight="15" orient="auto">
          <path d="M0,0 L10,5 L0,10 z" fill={blue} />
        </marker>
        <marker id="ar" viewBox="0 0 10 10" refX="3" refY="5" markerUnits="userSpaceOnUse" markerWidth="13" markerHeight="13" orient="auto">
          <path d="M0,0 L10,5 L0,10 z" fill={red} />
        </marker>
      </defs>
      <rect x={0} y={0} width={144} height={81} fill="#fff" />
      <path d="M33,72 Q62,46 34,17" stroke={blue} strokeWidth={7} fill="none" markerEnd="url(#ab)" />
      <path d="M80,72 Q50,46 76,17" stroke={blue} strokeWidth={7} fill="none" markerEnd="url(#ab)" />
      <path d="M111,13 Q128,14 131,28" stroke={red} strokeWidth={6} fill="none" markerEnd="url(#ar)" />
      <path d="M131,57 Q129,70 113,72" stroke={red} strokeWidth={6} fill="none" markerEnd="url(#ar)" />
      <rect x={79} y={6} width={31} height={15} fill="#fff" stroke="#9a9a9a" strokeWidth={1} />
      <rect x={42} y={35} width={28} height={18} fill="#fff" stroke="#9cc0e0" strokeWidth={1} />
      <rect x={121} y={35} width={21} height={18} fill="#fff" stroke="#9cc0e0" strokeWidth={1} />
      <rect x={81} y={64} width={26} height={15} fill="#fff" stroke="#9a9a9a" strokeWidth={1} />
      <g fontFamily={FONT} fontSize={11} fill="#222" textAnchor="middle">
        <text x={94.5} y={17.5} textLength={26} lengthAdjust="spacingAndGlyphs">GSSG</text>
        <text x={56} y={48} textLength={20} lengthAdjust="spacingAndGlyphs">GPx</text>
        <text x={131.5} y={48}>GR</text>
        <text x={94} y={75.5} textLength={21} lengthAdjust="spacingAndGlyphs">GSH</text>
        <text x={16} y={18}>H<tspan dy={2} fontSize={7}>2</tspan><tspan dy={-2}>O</tspan></text>
        <text x={15} y={73}>•H<tspan dy={2} fontSize={7}>2</tspan><tspan dy={-2}>O</tspan><tspan dy={2} fontSize={7}>2</tspan></text>
      </g>
    </svg>
  );
}

export default function App() {
  const tableCols = [632, 674, 721];
  const tableRowsY = [47, 76, 105];
  const N = 0.8;
  return (
    <div style={{ position: 'absolute', left: 0, top: 0, width: 737, height: 997, background: '#fff', overflow: 'hidden', fontFamily: FONT }}>
      {/* frames */}
      <Box x={27} y={2} w={706} h={492} border="1.5px solid #222" />
      <Box x={27} y={510} w={706} h={485} border="1.5px solid #555" />
      {/* panel B backgrounds */}
      <Box x={97} y={611} w={140} h={17} bg="#f1f1f1" />
      <Box x={287} y={611} w={138} h={17} bg="#f1f1f1" />
      <Box x={473} y={611} w={139} h={17} bg="#f1f1f1" />
      <Box x={97} y={728} w={140} h={18} bg="#f1f1f1" />
      <Box x={287} y={728} w={138} h={18} bg="#f1f1f1" />
      <Box x={473} y={728} w={139} h={18} bg="#f1f1f1" />
      <Box x={58} y={755} w={558} h={236} bg="#f2f2f2" />

      {/* Panel A */}
      <T x={12} y={13} s={27} w={700}>A</T>
      <T x={36} y={11} s={17} w={700} f={SERIF}>a</T>
      <svg width={170} height={20} style={{ position: 'absolute', left: 134, top: 2 }}>
        <polygon points="3,16 16,16 9.5,4" fill="none" stroke="#111" strokeWidth={1.5} />
        <circle cx={70.5} cy={10} r={6.5} fill={RED} />
        <circle cx={157} cy={10} r={5.8} fill="none" stroke={RED} strokeWidth={2} />
      </svg>
      <T x={157} y={12} s={14} w={700} al="l" sx={0.95}>CTRL</T>
      <T x={213} y={12} s={14} w={700} al="l" sx={0.95}>Psy-D</T>
      <T x={299} y={12} s={14} w={700} al="l" sx={0.95}>Psy-ND</T>
      <ChartBox rect={RA1} m={[20, 8, 4, 18]} cfg={cfgA1} />
      <ChartBox rect={RA2} m={[20, 8, 4, 18]} cfg={cfgA2} />
      <T x={49} y={86} s={12} rot sx={0.82}>miR-137 exosomal levels</T>
      <T x={276} y={88} s={12} rot sx={0.82}>COX6A2 exosomal levels</T>

      {/* table b */}
      <T x={487} y={13} s={17} w={700} f={SERIF}>b</T>
      <Box x={503} y={18} w={225} h={1.5} bg="#333" />
      <Box x={503} y={35} w={225} h={1} bg="#333" />
      <Box x={503} y={113} w={225} h={1.5} bg="#333" />
      <T x={509} y={28} s={10} w={700} al="l">{TABLE_HEAD[0]}</T>
      <T x={620} y={28} s={10} w={700}>{TABLE_HEAD[1]}</T>
      <T x={661} y={28} s={10} w={700}>{TABLE_HEAD[2]}</T>
      <T x={705} y={28} s={10} w={700}>{TABLE_HEAD[3]}</T>
      {TABLE_LEAVES.map((lines, i) => lines.map((ln, j) => <T key={`l${i}${j}`} x={509} y={tableRowsY[i] + j * 10.5} s={10} c="#333" al="l">{ln}</T>))}
      {TABLE_VALUES.map((row, i) => row.map((v, j) => (
        <T key={`v${i}${j}`} x={tableCols[j]} y={tableRowsY[i]} s={10} al="r" w={TABLE_BOLD[i][j] ? 700 : 400} c={TABLE_BOLD[i][j] ? '#ff1a1a' : '#333'}>{v.toFixed(3)}</T>
      )))}

      {/* c */}
      <T x={37} y={163} s={17} w={700} f={SERIF}>c</T>
      <ChartBox rect={RC1} m={[24, 8, 4, 22]} cfg={cfgC1} />
      <ChartBox rect={RC2} m={[22, 8, 4, 22]} cfg={cfgC2} />
      <T x={46} y={229} s={13} rot sx={0.76}>miR-137 exosomal levels</T>
      <T x={274} y={236} s={13} rot sx={0.76}>COX6A2 exosomal levels</T>

      {/* ROC d */}
      <T x={492} y={149} s={17} w={700} f={SERIF}>d</T>
      <T x={578} y={146} s={14} w={700} u sx={0.82}>ROC curves (AUC values)</T>
      <ChartBox rect={RROC} m={[30, 6, 6, 18]} cfg={cfgROC} />
      <T x={504} y={226} s={14} it rot sx={0.84}>Sensitivity (True Positive)</T>
      <T x={609} y={323} s={14} it sx={0.8}>1-Specificity (False Positive)</T>
      <Box x={585} y={263} w={10} h={1.5} bg="#ff2a2a" />
      <Box x={585} y={277} w={10} h={1.5} bg="#f49ac8" />
      <Box x={585} y={290} w={10} h={1.5} bg="#333" />
      <T x={596} y={263} s={13} al="l" sx={0.85}>{AUC_LABELS[0]}</T>
      <T x={596} y={277} s={13} al="l" sx={0.85}>{AUC_LABELS[1]}</T>
      <T x={596} y={290} s={13} al="l" sx={0.85}>{AUC_LABELS[2]}</T>
      <T x={683} y={263} s={13} al="r" c="#ff2020" sx={0.85}>AUC={AUC_VALUES[0].toFixed(2)}</T>
      <T x={695} y={277} s={13} al="r" c="#f7a8c8" sx={0.85}>AUC={AUC_VALUES[1].toFixed(2)}</T>
      <T x={697} y={290} s={13} al="r" sx={0.85}>AUC={AUC_VALUES[2].toFixed(2)}</T>

      {/* e */}
      <T x={37} y={331} s={17} w={700} f={SERIF}>e</T>
      <ChartBox rect={RE1} m={[30, 6, 4, 20]} cfg={cfgE1} />
      <ChartBox rect={RE2} m={[30, 6, 4, 20]} cfg={cfgE2} />
      <ChartBox rect={RE3} m={[30, 6, 4, 20]} cfg={cfgE3} />
      <T x={61} y={402} s={15} rot sx={0.78}>miR-137 exosomal levels</T>
      <T x={279} y={403} s={15} rot sx={0.78}>miR-137 exosomal levels</T>
      <T x={498} y={403} s={15} rot sx={0.78}>miR-137 exosomal levels</T>
      <T x={164} y={487} s={15} it sx={0.86}>COX6A2 exosomal levels</T>
      <T x={388} y={487} s={15} it sx={0.86}>COX6A2 exosomal levels</T>
      <T x={618} y={487} s={15} it sx={0.86}>COX6A2 exosomal levels</T>
      <T x={170} y={356} s={14} w={700} sx={N}>Healthy controls</T>
      <T x={384} y={357} s={14} w={700} sx={N}>Psy-D</T>
      <T x={443} y={358} s={13} it sx={N}>p&lt;0.05</T>
      <T x={612} y={357} s={14} w={700} sx={N}>Psy-ND</T>

      {/* Panel B */}
      <T x={12} y={519} s={27} w={700}>B</T>
      <T x={37} y={522} s={17} w={700} f={SERIF}>a</T>
      <ChartBox rect={{ l: 92, t: ITC_T, r: 237, b: ITC_B }} m={[30, 8, 2, 18]} cfg={() => bStrip(0, 'itc', [ITC0500_CTRL, ITC0500_PSYD, ITC0500_PSYND], BOX_ITC0500, [{ x1: 1.06, x2: 2.04, y: 0.748, t: '***', font: starF }, { x1: 2.14, x2: 3.0, y: 0.748, t: '△', font: triF, dy: -1 }])} />
      <ChartBox rect={{ l: 282, t: ITC_T, r: 425, b: ITC_B }} m={[30, 8, 2, 18]} cfg={() => bStrip(1, 'itc', [ITC300_CTRL, ITC300_PSYD, ITC300_PSYND], BOX_ITC300, [{ x1: 1.02, x2: 1.98, y: 0.748, t: '**', font: starF }, { x1: 2.1, x2: 2.96, y: 0.748, t: '*', font: starF }])} />
      <ChartBox rect={{ l: 468, t: ITC_T, r: 612, b: ITC_B }} m={[30, 8, 2, 18]} cfg={() => bStrip(2, 'itc', [ITC0100_CTRL, ITC0100_PSYD, ITC0100_PSYND], BOX_ITC0100)} />
      <ChartBox rect={{ l: 92, t: POW_T, r: 237, b: POW_B }} m={[30, 8, 2, 18]} cfg={() => bStrip(0, 'pow', [POW0500_CTRL, POW0500_PSYD, POW0500_PSYND], BOX_POW0500, [{ x1: 1.0, x2: 1.88, y: 18.5, t: '**', font: starF, lw: 2.5, c: '#6a6a6a' }, { x1: 2.04, x2: 2.92, y: 18.5, t: '*', font: starF, lw: 2.5, c: '#6a6a6a' }])} />
      <ChartBox rect={{ l: 282, t: POW_T, r: 425, b: POW_B }} m={[30, 8, 2, 18]} cfg={() => bStrip(1, 'pow', [POW300_CTRL, POW300_PSYD, POW300_PSYND], BOX_POW300, [{ x1: 1.12, x2: 2.04, y: 18.6, t: '**', font: starF }, { x1: 2.18, x2: 3.06, y: 18.6, t: '*', font: starF }])} />
      <ChartBox rect={{ l: 468, t: POW_T, r: 612, b: POW_B }} m={[30, 8, 2, 18]} cfg={() => bStrip(2, 'pow', [POW0100_CTRL, POW0100_PSYD, POW0100_PSYND], BOX_POW0100, [{ x1: 1.08, x2: 1.97, y: 18.8, t: '△', font: triF, dy: -1 }])} />
      <T x={63} y={562} s={12} rot>ITC_C_0-500</T>
      <T x={259} y={562} s={12} rot>ITC_C_300-500</T>
      <T x={445} y={562} s={12} rot>ITC_C_0-100</T>
      <T x={65} y={684} s={12} rot>ePOW_C_0-500</T>
      <T x={259} y={682} s={12} rot>ePOW_C_300-500</T>
      <T x={445} y={684} s={12} rot>ePOW_C_0-100</T>
      {/* B legend */}
      <svg width={20} height={60} style={{ position: 'absolute', left: 621, top: 527 }}>
        <circle cx={10} cy={10} r={6.5} fill="#e8384a" />
        <circle cx={9.5} cy={29} r={6} fill="none" stroke="#e8384a" strokeWidth={1.5} />
        <polygon points="2.5,57 17.5,57 10,44" fill="none" stroke="#222" strokeWidth={1.4} />
      </svg>
      <T x={640} y={537} s={16} al="l" sx={0.85}>Psy-D</T>
      <T x={640} y={556} s={16} al="l" sx={0.85}>Psy-ND</T>
      <T x={641} y={578} s={16} al="l" sx={0.85}>CTRL</T>

      {/* b row */}
      <T x={37} y={767} s={17} w={700} f={SERIF}>b</T>
      <ChartBox rect={RB1} m={[28, 8, 4, 16]} cfg={cfgB1} />
      <ChartBox rect={RB2} m={[28, 8, 4, 16]} cfg={cfgB2} />
      <ChartBox rect={RB3} m={[28, 8, 4, 16]} cfg={cfgB3} />
      <T x={77} y={808} s={12} it rot sx={0.72}>GPx activity (U/gHb)</T>
      <T x={269} y={808} s={12} it rot sx={0.72}>GPx activity (U/gHb)</T>
      <T x={447} y={808} s={12} it rot sx={0.72}>GPx activity (U/gHb)</T>
      <T x={167} y={873} s={12} it sx={0.8}>GR activity (U/gHb)</T>
      <T x={367} y={873} s={12} it sx={0.8}>GR activity (U/gHb)</T>
      <T x={541} y={874} s={12} it sx={0.8}>GR activity (U/gHb)</T>
      <T x={122} y={774} s={16} sx={0.78}>CTRL</T>
      <T x={212} y={775} s={15} sx={0.85}>p&lt;0.05</T>
      <T x={327} y={778} s={16} sx={0.8}>Psy-D</T>
      <T x={515} y={778} s={16} sx={0.8}>Psy-ND</T>
      <T x={580} y={776} s={15} sx={0.85}>p&lt;0.05</T>

      {/* c row */}
      <T x={39} y={888} s={17} w={700} f={SERIF}>c</T>
      <ChartBox rect={RCR1} m={[26, 8, 2, 16]} cfg={cfgCR1} />
      <ChartBox rect={RCR2} m={[26, 8, 2, 16]} cfg={cfgCR2} />
      <T x={70} y={932} s={12} it rot sx={0.75}>GR activity (U/gHb)</T>
      <T x={259} y={932} s={12} it rot sx={0.75}>GPx activity (U/gHb)</T>
      <Diagram />
    </div>
  );
}
